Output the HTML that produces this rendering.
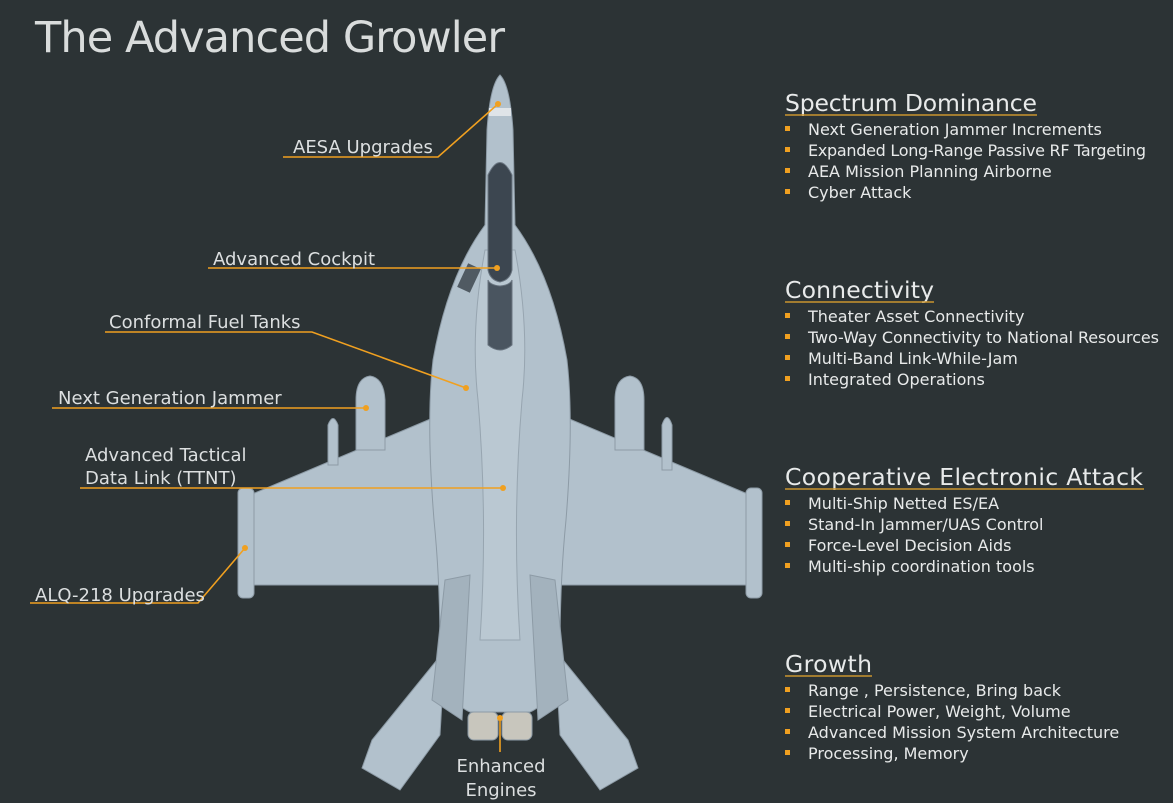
<!DOCTYPE html>
<html><head><meta charset="utf-8"><style>
html,body{margin:0;padding:0;background:#2c3335;}
svg{display:block}
text{font-family:"DejaVu Sans","Liberation Sans",sans-serif;}
</style></head><body>
<svg width="1173" height="803" viewBox="0 0 1173 803" xmlns="http://www.w3.org/2000/svg">
<rect width="1173" height="803" fill="#2c3335"/>
<text x="35" y="52" font-size="43" fill="#d9dcdc" font-family="Liberation Sans, sans-serif" textLength="470">The Advanced Growler</text>

<g fill="#b2c1cc" stroke="#8d9ba6" stroke-width="1">
  <polygon points="445,650 440,735 400,790 362,768 372,740"/>
  <polygon points="555,650 560,735 600,790 638,768 628,740"/>
  <polygon points="440,415 250,495 250,585 445,585"/>
  <polygon points="560,415 750,495 750,585 555,585"/>
  <rect x="238" y="488" width="16" height="110" rx="5"/>
  <rect x="746" y="488" width="16" height="110" rx="5"/>
  <path d="M356,450 L356,400 Q356,378 370,376 Q384,378 385,400 L385,450 Z"/>
  <path d="M328,465 L328,425 Q333,412 338,425 L338,465 Z"/>
  <path d="M615,450 L615,400 Q615,378 630,376 Q644,378 644,400 L644,450 Z"/>
  <path d="M662,470 L662,425 Q667,410 672,425 L672,470 Z"/>
  <path d="M500,75 Q490,85 487,130 L485,225 Q448,275 433,360 Q426,420 434,520 Q440,580 440,650 Q442,700 470,712 L530,712 Q558,700 560,650 Q560,580 566,520 Q574,420 567,360 Q552,275 515,225 L513,130 Q510,85 500,75 Z"/>
  <polygon points="445,580 470,575 462,720 432,700" fill="#a3b2bd"/>
  <polygon points="555,580 530,575 538,720 568,700" fill="#a3b2bd"/>
  <rect x="468" y="712" width="30" height="28" rx="6" fill="#c8c6bd"/>
  <rect x="502" y="712" width="30" height="28" rx="6" fill="#c8c6bd"/>
</g>
<path d="M485,250 Q470,330 478,400 Q488,520 480,640 L520,640 Q512,520 522,400 Q530,330 515,250 Z" fill="#bac8d2" stroke="#97a5b0"/>
<rect x="489" y="108" width="22" height="8" fill="#dfe4e8"/>
<path d="M488,175 Q500,150 512,175 L512,270 Q510,280 500,282 Q490,280 488,270 Z" fill="#3c4650" stroke="#6a7580"/>
<path d="M488,280 Q490,285 500,286 Q510,285 512,280 L512,345 Q500,355 488,345 Z" fill="#4a5560" stroke="#6a7580"/>
<rect x="462" y="265" width="14" height="26" fill="#505a62" transform="rotate(25 469 278)"/>

<g stroke="#f0a020" stroke-width="1.6" fill="none">
  <polyline points="283,157 438,157 498,104"/>
  <polyline points="208,268 497,268"/>
  <polyline points="105,332 312,332 466,388"/>
  <polyline points="52,408 292,408 366,408"/>
  <polyline points="80,488 503,488"/>
  <polyline points="30,603 198,603 245,548"/>
  <polyline points="500,718 500,752"/>
</g>
<g fill="#f0a020">
  <circle cx="498" cy="104" r="3"/><circle cx="497" cy="268" r="3"/><circle cx="466" cy="388" r="3"/>
  <circle cx="366" cy="408" r="3"/><circle cx="503" cy="488" r="3"/><circle cx="245" cy="548" r="3"/><circle cx="500" cy="718" r="3"/>
</g>

<g fill="#dcdfe0" font-size="18">
  <text x="293" y="153">AESA Upgrades</text>
  <text x="213" y="265">Advanced Cockpit</text>
  <text x="109" y="328">Conformal Fuel Tanks</text>
  <text x="58" y="404">Next Generation Jammer</text>
  <text x="85" y="461">Advanced Tactical</text>
  <text x="85" y="484">Data Link (TTNT)</text>
  <text x="35" y="601">ALQ-218 Upgrades</text>
  <text x="501" y="772" text-anchor="middle">Enhanced</text>
  <text x="501" y="796" text-anchor="middle">Engines</text>
</g>

<g fill="#e8eaea">
  <g font-size="23.5">
    <text x="785" y="111" textLength="252">Spectrum Dominance</text>
    <text x="785" y="298" textLength="149">Connectivity</text>
    <text x="785" y="485" textLength="358">Cooperative Electronic Attack</text>
    <text x="785" y="672" textLength="87">Growth</text>
  </g>
  <g stroke="#c9942f" stroke-width="1.6">
    <line x1="785" y1="115" x2="1037" y2="115"/>
    <line x1="785" y1="302" x2="934" y2="302"/>
    <line x1="785" y1="489" x2="1144" y2="489"/>
    <line x1="785" y1="676" x2="872" y2="676"/>
  </g>
  <g font-size="16">
    <text x="808" y="135">Next Generation Jammer Increments</text>
    <text x="808" y="156" textLength="338">Expanded Long-Range Passive RF Targeting</text>
    <text x="808" y="177">AEA Mission Planning Airborne</text>
    <text x="808" y="198">Cyber Attack</text>
    <text x="808" y="322">Theater Asset Connectivity</text>
    <text x="808" y="343" textLength="351">Two-Way Connectivity to National Resources</text>
    <text x="808" y="364">Multi-Band Link-While-Jam</text>
    <text x="808" y="385">Integrated Operations</text>
    <text x="808" y="509">Multi-Ship Netted ES/EA</text>
    <text x="808" y="530">Stand-In Jammer/UAS Control</text>
    <text x="808" y="551">Force-Level Decision Aids</text>
    <text x="808" y="572">Multi-ship coordination tools</text>
    <text x="808" y="696">Range , Persistence, Bring back</text>
    <text x="808" y="717">Electrical Power, Weight, Volume</text>
    <text x="808" y="738">Advanced Mission System Architecture</text>
    <text x="808" y="759">Processing, Memory</text>
  </g>
</g>
<g fill="#f0a020">
  <rect x="785" y="126" width="5" height="5"/><rect x="785" y="147" width="5" height="5"/><rect x="785" y="168" width="5" height="5"/><rect x="785" y="189" width="5" height="5"/>
  <rect x="785" y="313" width="5" height="5"/><rect x="785" y="334" width="5" height="5"/><rect x="785" y="355" width="5" height="5"/><rect x="785" y="376" width="5" height="5"/>
  <rect x="785" y="500" width="5" height="5"/><rect x="785" y="521" width="5" height="5"/><rect x="785" y="542" width="5" height="5"/><rect x="785" y="563" width="5" height="5"/>
  <rect x="785" y="687" width="5" height="5"/><rect x="785" y="708" width="5" height="5"/><rect x="785" y="729" width="5" height="5"/><rect x="785" y="750" width="5" height="5"/>
</g>
</svg>
</body></html>
